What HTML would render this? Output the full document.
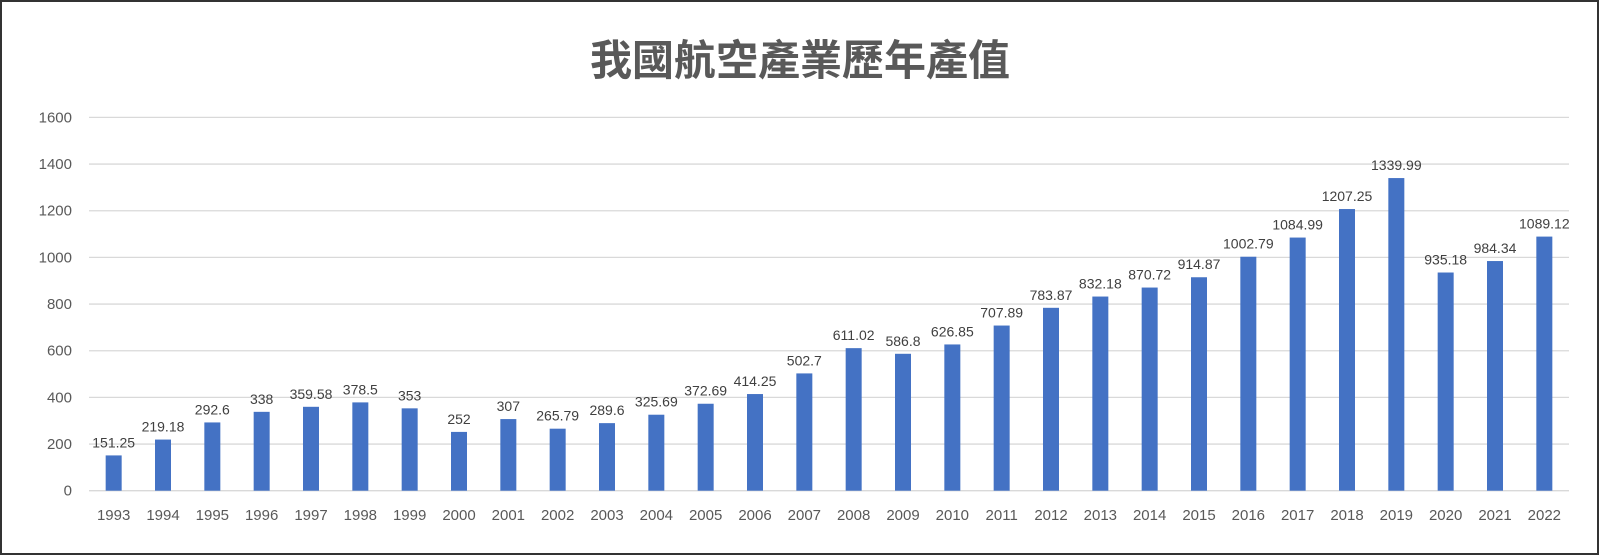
<!DOCTYPE html>
<html><head><meta charset="utf-8"><style>
html,body{margin:0;padding:0;background:#fff}
svg{display:block}
text{font-family:"Liberation Sans","Noto Sans CJK TC",sans-serif}
</style></head><body>
<svg id="c" width="1600" height="556">
<rect x="1" y="1" width="1597" height="553" fill="#fff" stroke="#333" stroke-width="2"/>
<text x="800" y="75" text-anchor="middle" font-size="42" font-weight="bold" fill="#595959">我國航空產業歷年產值</text>
</svg>
<script>
const years=["1993","1994","1995","1996","1997","1998","1999","2000","2001","2002","2003","2004","2005","2006","2007","2008","2009","2010","2011","2012","2013","2014","2015","2016","2017","2018","2019","2020","2021","2022"];
const values=[151.25,219.18,292.6,338,359.58,378.5,353,252,307,265.79,289.6,325.69,372.69,414.25,502.7,611.02,586.8,626.85,707.89,783.87,832.18,870.72,914.87,1002.79,1084.99,1207.25,1339.99,935.18,984.34,1089.12];
const yTicks=[0,200,400,600,800,1000,1200,1400,1600];
const svg=document.getElementById('c');
const NS='http://www.w3.org/2000/svg';
const L=89,R=1569,Y0=490.7,Y1=117.4,YMAX=1600;
const step=(R-L)/years.length;
const y=v=>Y0-(v/YMAX)*(Y0-Y1);
const x=i=>L+step*(i+0.5);
function mk(t,a){const e=document.createElementNS(NS,t);for(const k in a)e.setAttribute(k,a[k]);svg.appendChild(e);return e;}
yTicks.forEach(t=>{
  const g=mk('line',{x1:L,x2:R,y1:y(t),y2:y(t),stroke:'#d9d9d9','stroke-width':1.3});
  
  
  const l=mk('text',{x:72,y:y(t)+5,'text-anchor':'end','font-size':15,fill:'#595959'});
  l.textContent=t;
  
  
});
years.forEach((yr,i)=>{
  const v=values[i];
  const b=mk('rect',{x:x(i)-8,y:y(v),width:16,height:Y0-y(v),fill:'#4472c4'});
  
  
  const vl=mk('text',{x:x(i),y:y(v)-8,'text-anchor':'middle','font-size':14,fill:'#404040'});
  vl.textContent=v;
  
  
  const xl=mk('text',{x:x(i),y:520,'text-anchor':'middle','font-size':15,fill:'#595959'});
  xl.textContent=yr;
  
  
});
</script>
</body></html>
